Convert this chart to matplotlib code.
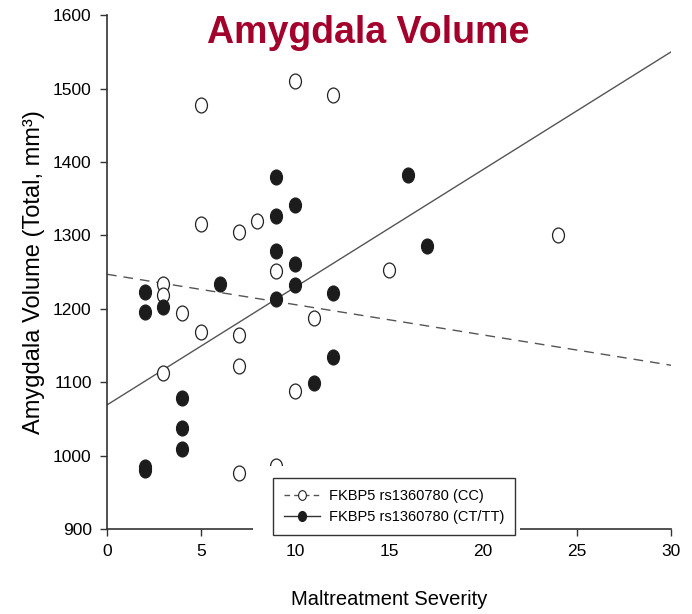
import matplotlib.pyplot as plt
import numpy as np
from matplotlib.path import Path
from matplotlib.patches import Rectangle
from matplotlib.lines import Line2D

# CC genotype (open circles)
cc_x = [5, 10, 12, 5, 7, 8, 9, 3, 3, 4, 5, 7, 11, 15, 24, 3, 7, 10, 7, 9, 16]
cc_y = [1477, 1510, 1491, 1316, 1305, 1319, 1252, 1234, 1219, 1194, 1169, 1164,
        1187, 1253, 1301, 1113, 1122, 1088, 976, 986, 972]

# CT/TT genotype (filled circles)
ct_x = [9, 9, 10, 9, 10, 9, 10, 6, 2, 2, 3, 12, 12, 11, 16, 17, 4, 4, 4, 2, 2]
ct_y = [1379, 1326, 1342, 1279, 1261, 1213, 1232, 1234, 1223, 1196, 1203, 1221,
        1134, 1099, 1382, 1286, 1079, 1037, 1009, 981, 985]

# fitted lines (intercept, slope)
cc_fit = (1247, -4.13)
ct_fit = (1069, 16.03)

fig = plt.figure(figsize=(6.92, 6.14), dpi=100)
ax = fig.add_axes([0.1546, 0.1384, 0.8151, 0.837])

# slightly tall ellipse marker like the original
circ = Path.unit_circle()
ell = Path(circ.vertices * np.array([0.8, 1.0]), circ.codes)

xs = np.array([0, 30])
ax.plot(xs, cc_fit[0] + cc_fit[1] * xs, color='#555555', lw=1, ls=(0, (7, 5)), zorder=2)
ax.plot(xs, ct_fit[0] + ct_fit[1] * xs, color='#555555', lw=1, zorder=2)

ax.scatter(cc_x, cc_y, marker=ell, s=115, facecolor='white', edgecolor='#222222',
           linewidth=0.9, zorder=3)
ax.scatter(ct_x, ct_y, marker=ell, s=115, facecolor='#1c1c1c', edgecolor='#1c1c1c',
           linewidth=0.9, zorder=3)

ax.set_xlim(0, 30)
ax.set_ylim(900, 1600)
ax.set_xticks([0, 5, 10, 15, 20, 25, 30])
ax.set_yticks(range(900, 1601, 100))
ax.spines['top'].set_visible(False)
ax.spines['right'].set_visible(False)
for s in ('left', 'bottom'):
    ax.spines[s].set_color('#333333')
    ax.spines[s].set_linewidth(1.2)
ax.tick_params(direction='out', length=5, width=1, color='#333333',
               labelsize=12.5, pad=6)
for lab in ax.get_xticklabels() + ax.get_yticklabels():
    lab.set_family('Liberation Sans')

ax.set_xlabel('Maltreatment Severity', fontsize=14.5, labelpad=22,
              family='Liberation Sans')
ax.set_ylabel('Amygdala Volume (Total, mm³)', fontsize=17, labelpad=6,
              family=['Liberation Sans', 'DejaVu Sans'])

fig.text(0.532, 0.947, 'Amygdala Volume', ha='center', va='center',
         fontsize=27, fontweight='bold', color='#A3002B', family='Liberation Sans')

# white area around the legend hides part of the axis and points
fig.patches.append(Rectangle((0.3656, 0.1238), 0.386, 0.117, transform=fig.transFigure,
                             facecolor='white', edgecolor='none', zorder=4))

h1 = Line2D([], [], color='#555555', lw=1, ls=(0, (4, 3)), marker=ell, markersize=7,
            markerfacecolor='white', markeredgecolor='#222222', markeredgewidth=0.8)
h2 = Line2D([], [], color='#333333', lw=1, marker=ell, markersize=7,
            markerfacecolor='#1c1c1c', markeredgecolor='#1c1c1c')
leg = fig.legend([h1, h2], ['FKBP5 rs1360780 (CC)', 'FKBP5 rs1360780 (CT/TT)'],
                 loc='lower left', bbox_to_anchor=(0.3945, 0.129),
                 bbox_transform=fig.transFigure, fancybox=False, framealpha=1,
                 edgecolor='#333333', handlelength=2.5, handletextpad=0.6,
                 borderpad=0.75, labelspacing=0.45, borderaxespad=0,
                 prop={'family': 'Liberation Sans', 'size': 10.5})
leg.get_frame().set_linewidth(1.0)
leg.set_zorder(5)

fig.savefig('out.png', dpi=100)
